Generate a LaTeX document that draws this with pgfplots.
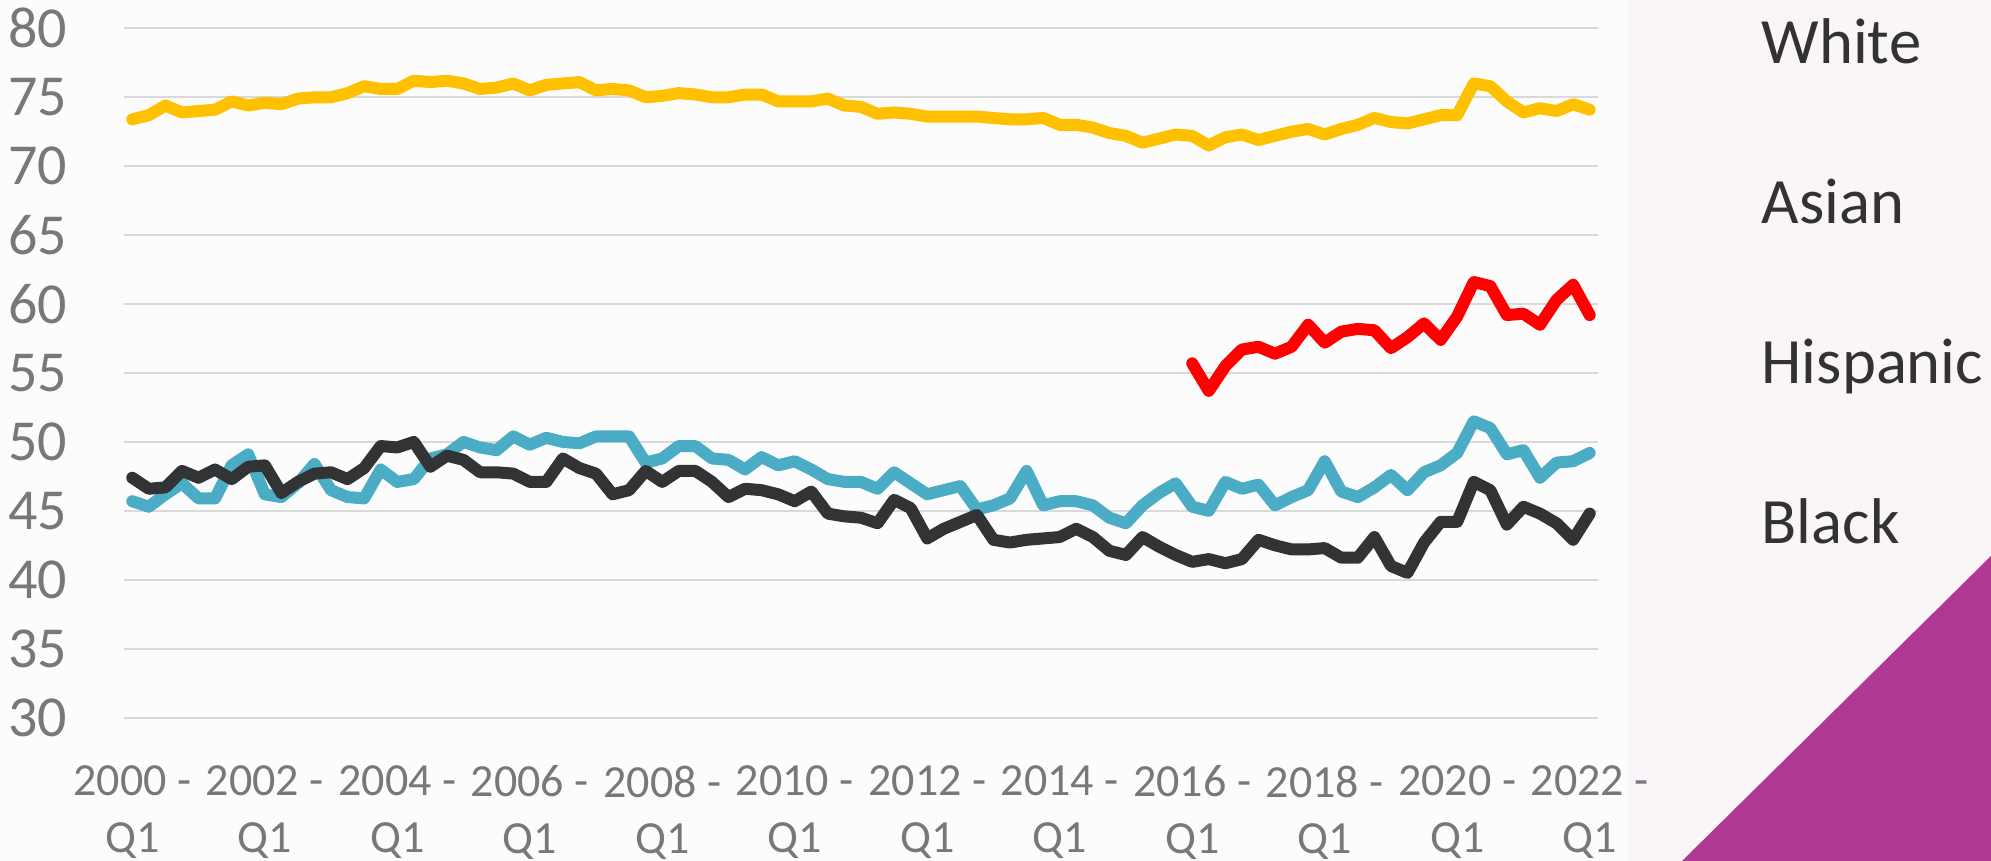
\documentclass[border=0pt]{standalone}
\usepackage{fontspec}
\setmainfont{Carlito}
\usepackage{pgfplots}
\pgfplotsset{compat=1.18}
\usepackage{pgfplotstable}
\definecolor{cYel}{RGB}{255,192,0}
\definecolor{cTeal}{RGB}{75,172,198}
\definecolor{cBlk}{RGB}{50,51,53}
\definecolor{cRed}{RGB}{255,0,0}
\definecolor{cGrid}{RGB}{217,217,217}
\definecolor{cTick}{RGB}{118,120,124}
\definecolor{cLeg}{RGB}{50,50,52}
\definecolor{cPurp}{RGB}{175,57,146}
\definecolor{bgA}{RGB}{253,252,253}
\definecolor{bgB}{RGB}{250,245,249}

\pgfplotstableread{
i w h b
0 73.4 45.7 47.4
1 73.7 45.3 46.6
2 74.4 46.2 46.7
3 73.9 47.0 47.9
4 74.0 45.9 47.4
5 74.1 45.9 48.0
6 74.7 48.3 47.3
7 74.4 49.1 48.2
8 74.6 46.2 48.3
9 74.5 46.0 46.3
10 74.9 47.0 47.1
11 75.0 48.4 47.7
12 75.0 46.5 47.8
13 75.3 46.0 47.3
14 75.8 45.9 48.1
15 75.6 48.0 49.7
16 75.6 47.1 49.6
17 76.2 47.3 50.0
18 76.1 48.8 48.2
19 76.2 49.1 49.0
20 76.0 50.0 48.7
21 75.6 49.6 47.8
22 75.7 49.4 47.8
23 76.0 50.4 47.7
24 75.5 49.8 47.1
25 75.9 50.3 47.1
26 76.0 50.0 48.8
27 76.1 49.9 48.1
28 75.5 50.4 47.7
29 75.6 50.4 46.2
30 75.5 50.4 46.5
31 75.0 48.5 47.9
32 75.1 48.8 47.1
33 75.3 49.7 47.9
34 75.2 49.7 47.9
35 75.0 48.8 47.1
36 75.0 48.7 46.0
37 75.2 48.0 46.6
38 75.2 48.9 46.5
39 74.7 48.3 46.2
40 74.7 48.6 45.7
41 74.7 48.0 46.4
42 74.9 47.3 44.8
43 74.4 47.1 44.6
44 74.3 47.1 44.5
45 73.8 46.6 44.1
46 73.9 47.8 45.8
47 73.8 47.0 45.2
48 73.6 46.2 43.0
49 73.6 46.5 43.7
50 73.6 46.8 44.2
51 73.6 45.1 44.7
52 73.5 45.4 42.9
53 73.4 45.9 42.7
54 73.4 47.9 42.9
55 73.5 45.4 43.0
56 73.0 45.7 43.1
57 73.0 45.7 43.7
58 72.8 45.4 43.1
59 72.4 44.5 42.1
60 72.2 44.1 41.8
61 71.7 45.4 43.1
62 72.0 46.3 42.4
63 72.3 47.0 41.8
64 72.2 45.3 41.3
65 71.5 45.0 41.5
66 72.1 47.1 41.2
67 72.3 46.6 41.5
68 71.9 46.9 42.9
69 72.2 45.4 42.5
70 72.5 46.0 42.2
71 72.7 46.5 42.2
72 72.3 48.6 42.3
73 72.7 46.4 41.6
74 73.0 46.0 41.6
75 73.5 46.7 43.1
76 73.2 47.6 41.0
77 73.1 46.5 40.5
78 73.4 47.8 42.7
79 73.7 48.3 44.2
80 73.7 49.2 44.2
81 76.0 51.5 47.1
82 75.8 51.0 46.5
83 74.7 49.1 44.0
84 73.9 49.4 45.3
85 74.2 47.4 44.8
86 74.0 48.5 44.1
87 74.5 48.6 42.9
88 74.1 49.2 44.8
}\data

\pgfplotstableread{
i a
64 55.7
65 53.7
66 55.5
67 56.7
68 56.9
69 56.4
70 56.9
71 58.5
72 57.2
73 58.0
74 58.2
75 58.1
76 56.8
77 57.6
78 58.6
79 57.4
80 59.1
81 61.6
82 61.3
83 59.2
84 59.3
85 58.5
86 60.3
87 61.4
88 59.2
}\asian

\begin{document}
\begin{tikzpicture}
\path[use as bounding box] (-37.2pt,-43pt) rectangle (560.1pt,215.3pt);
\fill[bgA] (-37.2pt,-43pt) rectangle (560.1pt,215.3pt);
\fill[bgB] (451.2pt,-43pt) rectangle (560.1pt,215.3pt);
\fill[cPurp] (467.4pt,-43pt) -- (560.1pt,48.5pt) -- (560.1pt,-43pt) -- cycle;
\begin{axis}[
  scale only axis, width=442.2pt, height=206.8pt,
  xmin=-0.5, xmax=88.5, ymin=30, ymax=80,
  axis line style={draw=none}, major tick length=0pt,
  ytick={30,35,...,80}, ymajorgrids, grid style={cGrid, line width=0.6pt},
  xtick={0,8,...,88},
  xticklabels={{2000 -\\Q1},{2002 -\\Q1},{2004 -\\Q1},{2006 -\\Q1},{2008 -\\Q1},{2010 -\\Q1},{2012 -\\Q1},{2014 -\\Q1},{2016 -\\Q1},{2018 -\\Q1},{2020 -\\Q1},{2022 -\\Q1}},
  /pgf/number format/assume math mode=true,
  yticklabel style={anchor=east, inner sep=0pt, xshift=-16.8pt, font=\fontsize{17.4}{20}\selectfont, text=cTick},
  xticklabel style={anchor=north, inner sep=0pt, yshift=-14.2pt, align=center, font=\fontsize{13.8}{17}\selectfont, text=cTick},
  clip=false,
]
\addplot[cTeal, line width=3.6pt, line join=round, line cap=round] table[x=i,y=h]{\data};
\addplot[cBlk, line width=3.6pt, line join=round, line cap=round] table[x=i,y=b]{\data};
\addplot[cYel, line width=3.6pt, line join=round, line cap=round] table[x=i,y=w]{\data};
\addplot[cRed, line width=3.6pt, line join=round, line cap=round] table[x=i,y=a]{\asian};
\end{axis}
\begin{scope}[every node/.style={anchor=base west, inner sep=0pt, text=cLeg, font=\fontsize{19.4}{23}\selectfont}]
\node at (491.1pt,196.3pt) {White};
\node at (491.1pt,148.1pt) {Asian};
\node at (491.1pt,100.3pt) {Hispanic};
\node at (491.1pt,52.3pt) {Black};
\end{scope}
\end{tikzpicture}
\end{document}
